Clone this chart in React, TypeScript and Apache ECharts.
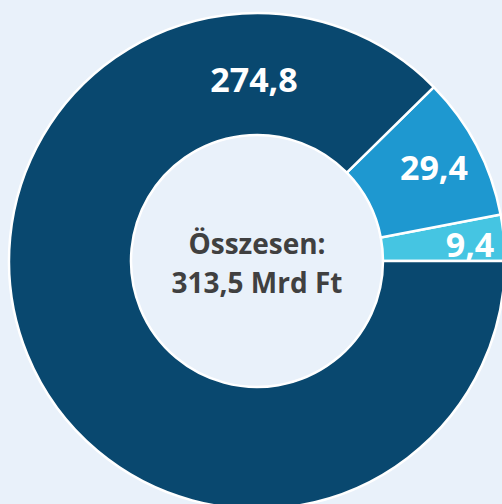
import React, { useEffect, useRef } from "react";
import * as echarts from "echarts";

const categories = ["A", "B", "C"];
const values = [9.4, 29.4, 274.8];
const colors = ["#45c5e2", "#1e98d0", "#09486f"];
const centerTitle = "Összesen:";
const centerTotal = "313,5 Mrd Ft";

const fmt = (v: number) => v.toFixed(1).replace(".", ",");

export default function App() {
  const ref = useRef<HTMLDivElement>(null);
  useEffect(() => {
    document.body.style.margin = "0";
    const chart = echarts.init(ref.current!, null, { renderer: "svg" });
    const labelPos: [number, number][] = [
      [470, 244],
      [434, 167],
      [254, 79],
    ];
    chart.setOption({
      animation: false,
      backgroundColor: "#e9f1fa",
      graphic: [
        {
          type: "text",
          x: 257,
          y: 262,
          style: {
            text: centerTitle + "\n" + centerTotal,
            align: "center",
            verticalAlign: "middle",
            fill: "#404040",
            font: "bold 28px 'Open Sans'",
            lineHeight: 39,
          },
        },
      ],
      series: [
        {
          type: "pie",
          center: [257, 261],
          radius: [126, 248],
          startAngle: 0,
          clockwise: false,
          silent: true,
          itemStyle: { borderColor: "#ffffff", borderWidth: 2.5 },
          label: {
            show: true,
            position: "inside",
            formatter: (p: any) => fmt(p.value),
            color: "#ffffff",
            fontFamily: "Open Sans",
            fontWeight: "bold",
            fontSize: 34,
          },
          labelLine: { show: false },
          labelLayout: (p: any) => {
            const pos = labelPos[p.dataIndex];
            return { x: pos[0], y: pos[1], align: "center", verticalAlign: "middle" };
          },
          data: categories.map((c, i) => ({
            name: c,
            value: values[i],
            itemStyle: { color: colors[i] },
          })),
        },
      ],
    });
    return () => chart.dispose();
  }, []);
  return <div ref={ref} style={{ width: 502, height: 504 }} />;
}
